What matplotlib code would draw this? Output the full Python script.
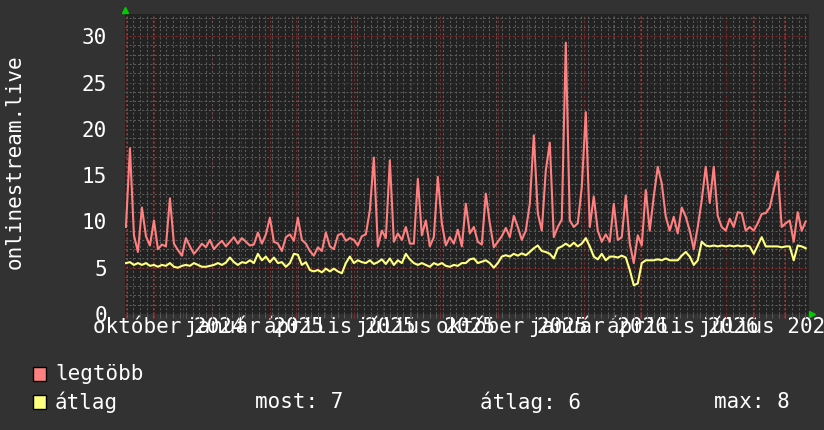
import matplotlib
matplotlib.use('Agg')
import matplotlib.pyplot as plt
import matplotlib.dates as mdates
from matplotlib.patches import Rectangle
from matplotlib.ticker import MultipleLocator
import numpy as np
import pandas as pd

# data, one sample every ~4.25 days from 2024-09-01
legtobb = [9.4, 17.9, 8.5, 6.7, 11.5, 8.4, 7.4, 10.1, 7.0, 7.5,
           7.3, 12.5, 7.6, 6.9, 6.3, 8.2, 7.3, 6.5, 7.0, 7.6,
           7.2, 8.0, 7.0, 7.5, 7.9, 7.3, 7.8, 8.3, 7.6, 8.2,
           7.8, 7.4, 7.5, 8.8, 7.6, 8.6, 10.4, 7.8, 7.6, 6.8,
           8.3, 8.6, 7.9, 10.4, 8.0, 7.6, 6.8, 6.3, 7.2, 6.8,
           8.8, 7.3, 7.0, 8.5, 8.7, 7.9, 8.2, 8.0, 7.4, 8.4,
           8.6, 11.2, 16.9, 7.3, 9.0, 8.2, 16.6, 7.8, 8.7, 8.0,
           9.4, 7.6, 7.6, 14.6, 8.5, 10.1, 7.3, 8.3, 14.8, 9.8,
           7.4, 8.3, 7.6, 9.1, 7.3, 11.9, 8.7, 9.4, 7.8, 7.5,
           13.0, 9.8, 7.2, 7.8, 8.4, 9.3, 8.3, 10.6, 9.4, 8.0,
           9.0, 11.9, 19.3, 10.9, 9.0, 15.5, 18.5, 8.3, 9.4, 10.2,
           29.3, 10.1, 9.4, 9.8, 13.7, 21.8, 9.4, 12.7, 9.0, 7.8,
           8.6, 7.8, 11.9, 8.0, 8.3, 12.8, 7.6, 5.5, 8.5, 7.4,
           13.4, 9.0, 12.7, 15.9, 14.1, 10.5, 9.0, 10.5, 8.7, 11.5,
           10.5, 9.0, 7.0, 9.4, 12.3, 15.9, 12.0, 15.9, 10.6, 9.4,
           9.0, 10.3, 9.4, 11.0, 10.9, 9.0, 9.4, 9.0, 9.8, 10.8,
           10.9, 11.5, 13.4, 15.4, 9.4, 9.8, 10.1, 7.8, 11.0, 9.0,
           10.0]
atlag = [5.5, 5.6, 5.3, 5.5, 5.3, 5.5, 5.2, 5.3, 5.1, 5.3,
         5.2, 5.5, 5.1, 5.0, 5.2, 5.3, 5.2, 5.5, 5.3, 5.1,
         5.1, 5.2, 5.3, 5.5, 5.3, 5.55, 6.1, 5.6, 5.3, 5.6,
         5.5, 5.8, 5.5, 6.5, 5.8, 6.2, 5.6, 6.1, 5.5, 5.6,
         5.1, 5.5, 6.5, 6.4, 5.3, 5.6, 4.75, 4.6, 4.75, 4.5,
         4.9, 4.6, 4.9, 4.6, 4.4, 5.5, 6.2, 5.5, 5.8, 5.6,
         5.5, 5.8, 5.4, 5.6, 5.9, 5.4, 6.0, 5.3, 5.8, 5.5,
         6.5, 5.9, 5.5, 5.3, 5.5, 5.3, 5.1, 5.5, 5.3, 5.5,
         5.2, 5.1, 5.3, 5.2, 5.5, 5.5, 5.9, 6.0, 5.5, 5.65,
         5.8, 5.5, 5.0, 5.5, 6.2, 6.35, 6.2, 6.5, 6.3, 6.55,
         6.35, 6.7, 7.1, 7.4, 6.8, 6.7, 6.5, 6.0, 7.1, 7.3,
         7.6, 7.3, 7.7, 7.3, 7.6, 8.2, 7.3, 6.2, 5.9, 6.5,
         5.8, 6.2, 6.2, 6.1, 6.3, 6.1, 4.75, 3.1, 3.3, 5.5,
         5.8, 5.8, 5.8, 5.9, 5.8, 6.0, 5.8, 5.8, 5.8, 6.3,
         6.7, 6.2, 5.3, 5.8, 7.8, 7.4, 7.3, 7.4, 7.3, 7.4,
         7.3, 7.4, 7.3, 7.4, 7.3, 7.4, 7.3, 6.5, 7.4, 8.3,
         7.3, 7.3, 7.3, 7.3, 7.2, 7.3, 7.3, 5.8, 7.4, 7.3,
         7.1]
dates = pd.date_range('2024-09-01', periods=len(legtobb), freq='102h')

tick_dates = ['2024-10-16', '2025-01-16', '2025-04-16', '2025-07-16',
              '2025-10-16', '2026-01-16', '2026-04-16', '2026-07-16']
tick_labels = ['október 2024', 'január 2025', 'április 2025', 'július 2025',
               'október 2025', 'január 2026', 'április 2026', 'július 2026']
series_names = ['legtöbb', 'átlag']
stats = ['most: 7', 'átlag: 6', 'max: 8']

BG = '#323232'
CANVAS = '#222222'
RED = '#FF8080'
YEL = '#FFFF80'
FONT = 'DejaVu Sans Mono'
FS = 15

plt.rcParams['font.family'] = FONT
fig = plt.figure(figsize=(8.24, 4.30), dpi=100, facecolor=BG)
ax = fig.add_axes([125/824, 1-314/430, 684/824, 300/430])
ax.set_facecolor(CANVAS)

ax.plot(dates, legtobb, color=RED, lw=1.5)
ax.plot(dates, atlag, color=YEL, lw=1.5)

ax.set_xlim(pd.Timestamp('2024-08-31'), pd.Timestamp('2026-08-28'))
ax.set_ylim(0, 32.4)

# grid: weekly + monthly vertical, 1 and 5 horizontal
ax.xaxis.set_major_locator(mdates.MonthLocator())
ax.xaxis.set_minor_locator(mdates.WeekdayLocator(byweekday=mdates.MO))
ax.yaxis.set_major_locator(MultipleLocator(5))
ax.yaxis.set_minor_locator(MultipleLocator(1))
ax.grid(which='minor', color='#5c5c5c', lw=0.75, ls=(0, (2, 2)))
ax.grid(which='major', color='#832828', lw=0.75, ls=(0, (2, 2)))
ax.set_axisbelow(True)
ax.tick_params(axis='x', which='both', labelbottom=False, length=3, width=0.75)
ax.tick_params(axis='x', which='major', color='#832828')
ax.tick_params(axis='x', which='minor', color='#5c5c5c')
ax.tick_params(axis='y', which='both', length=0, pad=13, labelcolor='white', labelsize=FS)
for s in ax.spines.values():
    s.set_visible(False)

sec = ax.secondary_xaxis('bottom')
sec.set_xticks(pd.to_datetime(tick_dates), tick_labels)
sec.tick_params(length=0, pad=13.5, labelcolor='white', labelsize=FS)
for lab in sec.get_xticklabels():
    lab.set_verticalalignment('baseline')
sec.spines['bottom'].set_visible(False)

# axis arrows
ax.plot([0], [1.013], marker='^', color='#00CC00', ms=5, transform=ax.transAxes, clip_on=False)
ax.plot([1.005], [0], marker='>', color='#00CC00', ms=5, transform=ax.transAxes, clip_on=False)

fig.text(15/824, 1-162/430, 'onlinestream.live', rotation=90, color='white',
         fontsize=FS, ha='center', va='center')

# legend
for i, (name, col) in enumerate(zip(series_names, [RED, YEL])):
    yc = 374 + 28*i
    fig.patches.append(Rectangle((33/824, 1-(yc+7)/430), 13/824, 14/430,
                                 transform=fig.transFigure, facecolor=col,
                                 edgecolor='black', lw=1))
    fig.text(55/824, 1-yc/430, name, color='white', fontsize=FS, va='center')
for txt, xp in zip(stats, [255, 480, 714]):
    fig.text(xp/824, 1-402/430, txt, color='white', fontsize=FS, va='center')

fig.savefig('out.png', dpi=100, facecolor=BG)
